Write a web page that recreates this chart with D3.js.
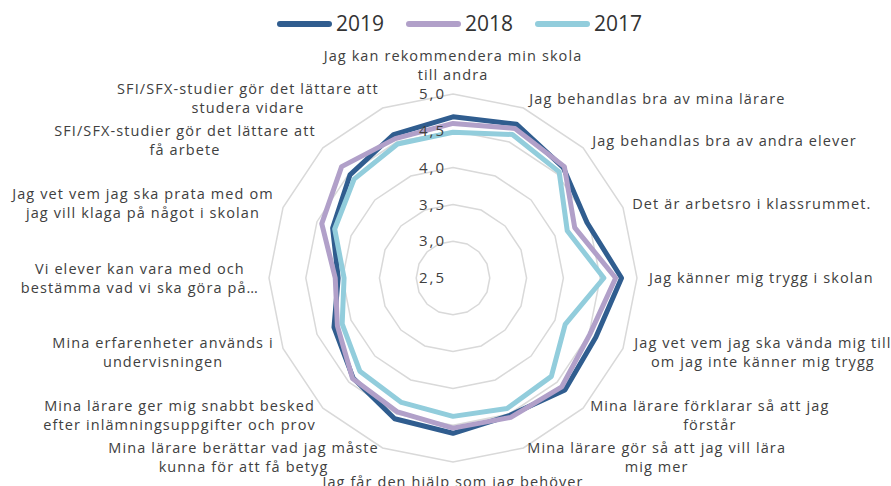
<!DOCTYPE html>
<html>
<head>
<meta charset="utf-8">
<script src="https://cdn.jsdelivr.net/npm/d3@7"></script>
<style>
  body { margin: 0; background: #fff; }
  svg { display: block; }
</style>
</head>
<body>
<svg width="891" height="486"></svg>
<script>
// questions, clockwise from the top
const categories = [
  "Jag kan rekommendera min skola\ntill andra",
  "Jag behandlas bra av mina lärare",
  "Jag behandlas bra av andra elever",
  "Det är arbetsro i klassrummet.",
  "Jag känner mig trygg i skolan",
  "Jag vet vem jag ska vända mig till\nom jag inte känner mig trygg",
  "Mina lärare förklarar så att jag\nförstår",
  "Mina lärare gör så att jag vill lära\nmig mer",
  "Jag får den hjälp som jag behöver",
  "Mina lärare berättar vad jag måste\nkunna för att få betyg",
  "Mina lärare ger mig snabbt besked\nefter inlämningsuppgifter och prov",
  "Mina erfarenheter används i\nundervisningen",
  "Vi elever kan vara med och\nbestämma vad vi ska göra på…",
  "Jag vet vem jag ska prata med om\njag vill klaga på något i skolan",
  "SFI/SFX-studier gör det lättare att\nfå arbete",
  "SFI/SFX-studier gör det lättare att\nstudera vidare"
];

const values2019 = [4.69, 4.76, 4.62, 4.47, 4.79, 4.60, 4.65, 4.52, 4.61, 4.57, 4.42, 4.25, 4.06, 4.27, 4.48, 4.61];
const values2018 = [4.60, 4.70, 4.64, 4.29, 4.71, 4.51, 4.59, 4.55, 4.54, 4.47, 4.43, 4.20, 4.10, 4.43, 4.64, 4.55];
const values2017 = [4.48, 4.61, 4.54, 4.18, 4.55, 4.15, 4.39, 4.42, 4.38, 4.33, 4.29, 4.13, 3.98, 4.24, 4.40, 4.47];

const seriesNames = ["2019", "2018", "2017"];
const tickValues = [2.5, 3.0, 3.5, 4.0, 4.5, 5.0];

const series = [
  { name: seriesNames[0], values: values2019, color: "#305d8f" },
  { name: seriesNames[1], values: values2018, color: "#b1a0c9" },
  { name: seriesNames[2], values: values2017, color: "#92cddc" }
];

const svg = d3.select("svg");
const cx = 453, cy = 278;
const textColor = "#404040";
const font = "'Open Sans', sans-serif";

const r = d3.scaleLinear().domain([2.5, 5]).range([0, 184]);
const step = 2 * Math.PI / categories.length;

const g = svg.append("g").attr("transform", `translate(${cx},${cy})`);

const radial = d3.lineRadial()
  .angle((d, i) => i * step)
  .radius(d => r(d))
  .curve(d3.curveLinearClosed);

// grid rings
g.selectAll(".ring")
  .data(tickValues.filter(t => t > 2.5))
  .enter().append("path")
  .attr("class", "ring")
  .attr("d", t => radial(categories.map(() => t)))
  .attr("fill", "none")
  .attr("stroke", "#d9d9d9")
  .attr("stroke-width", 1.5);

// series lines
g.selectAll(".series")
  .data(series)
  .enter().append("path")
  .attr("class", "series")
  .attr("d", d => radial(d.values))
  .attr("fill", "none")
  .attr("stroke", d => d.color)
  .attr("stroke-width", 5)
  .attr("stroke-linejoin", "round");

// tick labels
const fmt = d3.format(".1f");
g.selectAll(".tick")
  .data(tickValues)
  .enter().append("text")
  .attr("class", "tick")
  .attr("x", -7)
  .attr("y", t => -r(t))
  .attr("dy", "0.35em")
  .attr("text-anchor", "end")
  .style("font-family", font)
  .style("font-size", "15px")
  .style("letter-spacing", "2px")
  .attr("fill", textColor)
  .text(t => fmt(t).replace(".", ","));

// category labels
const lineH = 19;
const labelR = r(5) + 10;
categories.forEach((c, i) => {
  const a = i * step;
  const sx = Math.sin(a), cy_ = -Math.cos(a);
  const px = labelR * sx, py = labelR * cy_;
  const lab = g.append("g");
  const t = lab.append("text")
    .attr("text-anchor", "middle")
    .style("font-family", font)
    .style("font-size", "14.5px")
    .style("letter-spacing", "1.1px")
    .attr("fill", textColor);
  const lines = c.split("\n");
  lines.forEach((l, j) => {
    t.append("tspan").attr("x", 0).attr("y", j * lineH).attr("dy", "0.35em").text(l);
  });
  const bb = t.node().getBBox();
  const blockTop = -lineH / 2, blockH = lines.length * lineH;
  let tx, ty;
  if (sx > 0.1) tx = px - bb.x;
  else if (sx < -0.1) tx = px - (bb.x + bb.width);
  else tx = px;
  if (cy_ < -0.95) ty = py - (blockTop + blockH);
  else if (cy_ > 0.95) ty = py - blockTop;
  else ty = py - (blockTop + blockH / 2);
  lab.attr("transform", `translate(${tx},${ty})`);
});

// legend
const legend = svg.append("g").attr("transform", "translate(277,24)");
const item = legend.selectAll(".item")
  .data(series)
  .enter().append("g")
  .attr("class", "item")
  .attr("transform", (d, i) => `translate(${i * 129},0)`);
item.append("line")
  .attr("x1", 3).attr("x2", 52)
  .attr("stroke", d => d.color)
  .attr("stroke-width", 6)
  .attr("stroke-linecap", "round");
item.append("text")
  .attr("x", 59)
  .attr("dy", "0.35em")
  .style("font-family", font)
  .style("font-size", "21px")
  .attr("fill", "#333")
  .text(d => d.name);
</script>
</body>
</html>
